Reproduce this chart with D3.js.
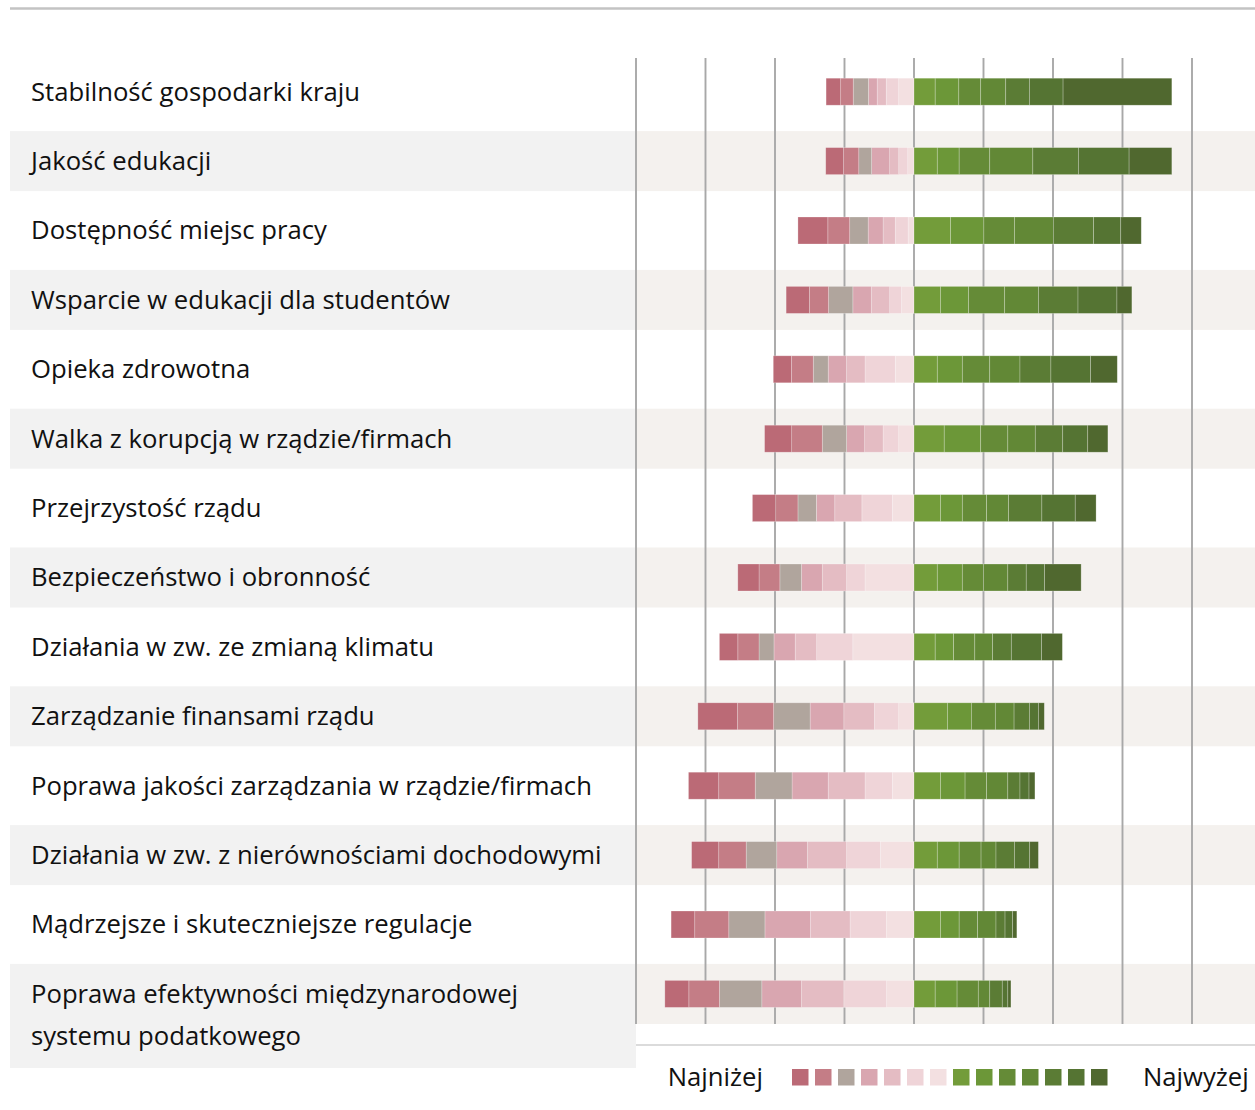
<!DOCTYPE html>
<html><head><meta charset="utf-8">
<script src="https://cdn.jsdelivr.net/npm/d3@7"></script>
<style>body{margin:0;background:#fff}svg{display:block}</style>
</head><body><svg id="chart" width="1255" height="1110"></svg>
<script>
const categories = [
  "Stabilność gospodarki kraju",
  "Jakość edukacji",
  "Dostępność miejsc pracy",
  "Wsparcie w edukacji dla studentów",
  "Opieka zdrowotna",
  "Walka z korupcją w rządzie/firmach",
  "Przejrzystość rządu",
  "Bezpieczeństwo i obronność",
  "Działania w zw. ze zmianą klimatu",
  "Zarządzanie finansami rządu",
  "Poprawa jakości zarządzania w rządzie/firmach",
  "Działania w zw. z nierównościami dochodowymi",
  "Mądrzejsze i skuteczniejsze regulacje",
  "Poprawa efektywności międzynarodowej\nsystemu podatkowego"
];
// share of answers (%) per level, level 1 = lowest ... level 14 = highest
const lvl1  = [4.2,5.1,8.6,6.7,5.2,7.8,6.7,6.1,5.3,11.4,8.7,7.8,6.8,6.9];
const lvl2  = [3.6,4.4,6.3,5.5,6.3,8.8,6.4,6.0,6.1,10.4,10.5,7.9,9.8,8.8];
const lvl3  = [4.4,3.7,5.3,7.0,4.3,7.0,5.3,6.2,4.3,10.5,10.6,8.8,10.4,12.2];
const lvl4  = [2.5,5.2,4.3,5.3,5.3,5.2,5.3,6.0,6.1,9.7,10.4,8.8,13.1,11.4];
const lvl5  = [2.6,2.6,3.5,5.3,5.3,5.3,7.8,7.0,6.2,8.8,10.6,11.3,11.4,12.2];
const lvl6  = [3.6,2.6,3.7,3.4,8.7,4.5,8.8,5.3,10.4,7.0,7.9,9.7,10.5,12.3];
const lvl7  = [4.4,1.8,1.7,3.6,5.4,4.4,6.2,14.1,17.6,4.4,6.2,9.7,7.9,7.9];
const lvl8  = [6.1,6.7,10.5,7.6,6.7,8.7,7.6,6.7,6.1,9.6,7.6,6.7,7.6,6.1];
const lvl9  = [6.8,6.3,9.6,8.1,7.2,10.5,6.3,7.2,5.3,6.9,7.1,6.3,5.4,6.3];
const lvl10 = [6.3,8.8,8.8,10.4,7.9,7.8,7.0,6.1,6.1,6.9,6.2,6.3,5.3,6.1];
const lvl11 = [7.2,12.4,11.2,9.7,8.7,7.9,6.3,7.0,5.1,5.4,6.1,4.3,5.3,3.3];
const lvl12 = [6.8,13.1,11.6,11.4,8.9,7.9,9.6,5.3,5.4,4.4,3.5,5.3,2.6,3.6];
const lvl13 = [9.7,14.6,7.8,11.2,11.4,7.2,9.6,5.3,8.7,2.6,2.6,4.4,2.2,1.6];
const lvl14 = [31.3,12.3,5.9,4.3,7.7,5.8,6.0,10.5,6.0,1.7,1.7,2.5,1.2,0.9];
const negativeLevels = [lvl1,lvl2,lvl3,lvl4,lvl5,lvl6,lvl7];
const positiveLevels = [lvl8,lvl9,lvl10,lvl11,lvl12,lvl13,lvl14];
const negColors = ["#bb6a76","#c47d86","#b0a59d","#d9a6b0","#e4bcc3","#efd4d8","#f3e0e1"];
const posColors = ["#739c3a","#6c9738","#658b37","#628836","#5b7c35","#557433","#50682f"];
const gridTicks = [-80,-60,-40,-20,0,20,40,60,80];
const legendLow = "Najniżej", legendHigh = "Najwyżej";

const svg = d3.select("#chart");
const FONT = "'Open Sans', 'Noto Sans', sans-serif";
const x = d3.scaleLinear().domain([-80,80]).range([636,1192]);
const y = d3.scaleBand().domain(d3.range(categories.length)).range([56, 56+69.4*14]);
const barH = 27, bandH = 60;

// top rule
svg.append("line").attr("x1",10).attr("x2",1255).attr("y1",8.5).attr("y2",8.5)
  .attr("stroke","#c3c3c3").attr("stroke-width",2.5);

// shaded bands
const rows = svg.append("g");
categories.forEach((c,i)=>{
  if(i%2===1){
    const cy = y(i)+y.bandwidth()/2;
    const last = i===categories.length-1;
    rows.append("rect").attr("x",10).attr("width",626).attr("y",cy-bandH/2+1)
      .attr("height", last ? 1068-(cy-bandH/2+1) : bandH).attr("fill","#f2f2f2");
    rows.append("rect").attr("x",636).attr("width",619).attr("y",cy-bandH/2+1)
      .attr("height", last ? 1024-(cy-bandH/2+1) : bandH).attr("fill","#f4f1ee");
  }
});

// grid lines
svg.append("g").selectAll("line").data(gridTicks).join("line")
  .attr("x1",d=>x(d)).attr("x2",d=>x(d)).attr("y1",58).attr("y2",1024)
  .attr("stroke","#a8a8a8").attr("stroke-width",1.9);

// bars
const segs = [];
categories.forEach((c,i)=>{
  let acc = 0;
  for(let k=negativeLevels.length-1;k>=0;k--){
    const v = negativeLevels[k][i];
    segs.push({i, x0:-(acc+v), x1:-acc, color:negColors[k]});
    acc += v;
  }
  acc = 0;
  positiveLevels.forEach((arr,k)=>{
    const v = arr[i];
    segs.push({i, x0:acc, x1:acc+v, color:posColors[k]});
    acc += v;
  });
});
svg.append("g").selectAll("rect").data(segs).join("rect")
  .attr("x",d=>x(d.x0)).attr("width",d=>x(d.x1)-x(d.x0))
  .attr("y",d=>y(d.i)+y.bandwidth()/2-barH/2+1).attr("height",barH)
  .attr("fill",d=>d.color).attr("stroke","rgba(255,255,255,0.35)").attr("stroke-width",0.7);

// labels
const lab = svg.append("g").attr("font-family",FONT).attr("fill","#111");
// size the font so the first label spans the width seen in the reference
const probe = lab.append("text").attr("font-size",24).text(categories[0]);
const w24 = probe.node().getComputedTextLength();
probe.remove();
const fs = Math.max(18, Math.min(27, 24*329/w24));
categories.forEach((c,i)=>{
  const cy = y(i)+y.bandwidth()/2;
  const lines = c.split("\n");
  lines.forEach((t,j)=>{
    lab.append("text").attr("x",31).attr("y",cy+1+j*42)
      .attr("dy","0.35em").attr("font-size",fs).text(t);
  });
});

// legend separator
svg.append("line").attr("x1",636).attr("x2",1255).attr("y1",1045).attr("y2",1045)
  .attr("stroke","#cfcfcf").attr("stroke-width",1.5);

// legend
const legColors = negColors.concat(posColors);
const lg = svg.append("g");
lg.selectAll("rect").data(legColors).join("rect")
  .attr("x",(d,k)=>792+k*23).attr("y",1069).attr("width",16.5).attr("height",16.5)
  .attr("fill",d=>d);
lg.append("text").attr("x",763).attr("y",1077).attr("dy","0.35em").attr("text-anchor","end")
  .attr("font-family",FONT).attr("font-size",fs).attr("fill","#111").text(legendLow);
lg.append("text").attr("x",1143).attr("y",1077).attr("dy","0.35em")
  .attr("font-family",FONT).attr("font-size",fs).attr("fill","#111").text(legendHigh);
</script></body></html>
